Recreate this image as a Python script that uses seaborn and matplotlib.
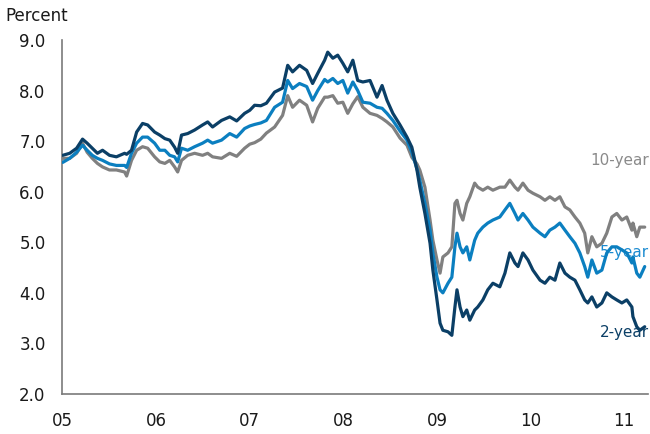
import matplotlib
matplotlib.use("Agg")
import matplotlib.pyplot as plt
import matplotlib.dates as mdates
from matplotlib.ticker import FormatStrFormatter
import pandas as pd
import seaborn as sns

# Government bond yields by maturity, percent
dates = [
    "2005-01-03", "2005-01-30", "2005-02-26", "2005-03-21", "2005-04-08", "2005-04-28",
    "2005-05-18", "2005-06-07", "2005-07-04", "2005-07-31", "2005-09-01", "2005-09-09",
    "2005-09-28", "2005-10-18", "2005-11-10", "2005-11-30", "2005-12-27", "2006-01-16",
    "2006-02-05", "2006-02-24", "2006-03-15", "2006-03-27", "2006-04-11", "2006-05-05",
    "2006-06-01", "2006-07-02", "2006-07-22", "2006-08-10", "2006-09-14", "2006-10-16",
    "2006-11-12", "2006-12-13", "2007-01-02", "2007-01-21", "2007-02-14", "2007-03-08",
    "2007-04-09", "2007-05-10", "2007-05-30", "2007-06-18", "2007-07-15", "2007-08-12",
    "2007-09-04", "2007-09-24", "2007-10-21", "2007-11-02", "2007-11-22", "2007-12-11",
    "2007-12-31", "2008-01-19", "2008-02-08", "2008-02-27", "2008-03-18", "2008-04-15",
    "2008-05-12", "2008-06-01", "2008-06-20", "2008-07-13", "2008-08-10", "2008-09-06",
    "2008-09-25", "2008-10-15", "2008-10-26", "2008-11-15", "2008-12-05", "2008-12-16",
    "2009-01-01", "2009-01-13", "2009-01-24", "2009-02-13", "2009-02-28", "2009-03-12",
    "2009-03-20", "2009-04-01", "2009-04-12", "2009-04-27", "2009-05-09", "2009-05-28",
    "2009-06-09", "2009-06-29", "2009-07-18", "2009-08-07", "2009-09-03", "2009-09-23",
    "2009-10-12", "2009-11-01", "2009-11-13", "2009-12-02", "2009-12-22", "2010-01-10",
    "2010-02-07", "2010-02-26", "2010-03-17", "2010-04-06", "2010-04-25", "2010-05-15",
    "2010-06-03", "2010-06-23", "2010-07-12", "2010-07-31", "2010-08-12", "2010-08-28",
    "2010-09-16", "2010-10-06", "2010-10-25", "2010-11-14", "2010-12-03", "2010-12-23",
    "2011-01-11", "2011-01-31", "2011-02-04", "2011-02-19", "2011-03-03", "2011-03-22",
]

yield_2y = [
    6.72, 6.76, 6.86, 7.04, 6.96, 6.86, 6.76, 6.82, 6.72, 6.69, 6.76, 6.74,
    6.82, 7.18, 7.35, 7.32, 7.18, 7.12, 7.05, 7.02, 6.88, 6.76, 7.12, 7.15,
    7.22, 7.32, 7.38, 7.28, 7.41, 7.48, 7.40, 7.55, 7.61, 7.71, 7.70, 7.75,
    7.97, 8.05, 8.50, 8.37, 8.50, 8.40, 8.14, 8.34, 8.60, 8.76, 8.64, 8.70,
    8.54, 8.37, 8.60, 8.20, 8.17, 8.20, 7.87, 8.10, 7.81, 7.55, 7.32, 7.08,
    6.88, 6.43, 6.09, 5.57, 4.98, 4.45, 3.86, 3.40, 3.26, 3.23, 3.16, 3.72,
    4.06, 3.72, 3.53, 3.66, 3.46, 3.66, 3.72, 3.86, 4.06, 4.19, 4.12, 4.39,
    4.79, 4.59, 4.52, 4.79, 4.65, 4.45, 4.25, 4.19, 4.31, 4.25, 4.59, 4.39,
    4.31, 4.25, 4.06, 3.86, 3.80, 3.92, 3.72, 3.80, 4.00, 3.92, 3.86, 3.80,
    3.86, 3.72, 3.53, 3.33, 3.26, 3.33,
]

yield_5y = [
    6.58, 6.66, 6.78, 6.92, 6.82, 6.72, 6.66, 6.62, 6.55, 6.52, 6.52, 6.48,
    6.76, 6.96, 7.08, 7.08, 6.96, 6.82, 6.82, 6.72, 6.69, 6.59, 6.86, 6.82,
    6.89, 6.96, 7.02, 6.96, 7.02, 7.15, 7.08, 7.25, 7.30, 7.33, 7.36, 7.41,
    7.67, 7.77, 8.20, 8.04, 8.14, 8.08, 7.81, 8.00, 8.22, 8.17, 8.24, 8.14,
    8.20, 7.95, 8.17, 8.00, 7.77, 7.75, 7.67, 7.65, 7.55, 7.41, 7.20, 7.02,
    6.78, 6.45, 6.23, 5.77, 5.24, 4.79, 4.31, 4.06, 4.00, 4.19, 4.31, 4.91,
    5.18, 4.91, 4.79, 4.91, 4.65, 5.04, 5.18, 5.30, 5.38, 5.44, 5.50, 5.64,
    5.77, 5.57, 5.44, 5.57, 5.44, 5.30, 5.18, 5.11, 5.24, 5.30, 5.38, 5.24,
    5.11, 4.98, 4.79, 4.52, 4.31, 4.65, 4.39, 4.45, 4.79, 4.91, 4.91, 4.85,
    4.79, 4.59, 4.71, 4.39, 4.31, 4.52,
]

yield_10y = [
    6.66, 6.66, 6.76, 6.96, 6.78, 6.66, 6.56, 6.49, 6.43, 6.43, 6.39, 6.31,
    6.62, 6.82, 6.89, 6.86, 6.69, 6.59, 6.56, 6.62, 6.49, 6.39, 6.62, 6.72,
    6.76, 6.72, 6.76, 6.69, 6.66, 6.76, 6.70, 6.86, 6.94, 6.97, 7.04, 7.16,
    7.28, 7.51, 7.90, 7.67, 7.81, 7.71, 7.38, 7.65, 7.87, 7.87, 7.90, 7.75,
    7.77, 7.55, 7.74, 7.88, 7.67, 7.55, 7.51, 7.45, 7.38, 7.28, 7.06, 6.92,
    6.68, 6.55, 6.43, 6.09, 5.44, 5.04, 4.65, 4.39, 4.71, 4.79, 4.91, 5.77,
    5.83, 5.57, 5.44, 5.77, 5.90, 6.17, 6.09, 6.03, 6.09, 6.03, 6.09, 6.09,
    6.23, 6.09, 6.03, 6.17, 6.03, 5.97, 5.90, 5.83, 5.90, 5.83, 5.90, 5.70,
    5.64, 5.50, 5.38, 5.18, 4.79, 5.11, 4.91, 4.98, 5.18, 5.50, 5.57, 5.44,
    5.50, 5.24, 5.38, 5.11, 5.30, 5.30,
]

series_names = ["2-year", "5-year", "10-year"]
series_colors = {"2-year": "#0b3f66", "5-year": "#0b7fc0", "10-year": "#808080"}
label_colors = {"2-year": "#0b3f66", "5-year": "#1a8ad0", "10-year": "#8a8a8a"}
year_labels = ["05", "06", "07", "08", "09", "10", "11"]
y_ticks = [2.0, 3.0, 4.0, 5.0, 6.0, 7.0, 8.0, 9.0]

frame = pd.DataFrame({
    "date": pd.to_datetime(dates * 3),
    "value": yield_2y + yield_5y + yield_10y,
    "series": [s for s in series_names for _ in dates],
})

sns.set_theme(style="white")
plt.rcParams["font.family"] = ["DejaVu Sans"]

fig = plt.figure(figsize=(6.5, 4.34), dpi=100)
ax = fig.add_axes([0.0958, 0.0922, 0.9012, 0.8156])

sns.lineplot(data=frame, x="date", y="value", hue="series",
             hue_order=["10-year", "5-year", "2-year"],
             palette=series_colors, linewidth=2.3, legend=False, ax=ax,
             zorder=3)

ax.set_xlim(pd.Timestamp("2005-01-01"), pd.Timestamp("2011-04-04"))
ax.set_ylim(2.0, 9.0)
ax.set_yticks(y_ticks)
ax.yaxis.set_major_formatter(FormatStrFormatter("%.1f"))
tick_dates = [pd.Timestamp(f"20{y}-01-01") for y in year_labels]
ax.set_xticks(tick_dates)
ax.set_xticklabels(year_labels)
ax.set_xlabel("")
ax.set_ylabel("")

for side in ("top", "right"):
    ax.spines[side].set_visible(False)
for side in ("left", "bottom"):
    ax.spines[side].set_color("#7a7a7a")
    ax.spines[side].set_linewidth(1.2)

ax.tick_params(axis="y", which="major", direction="out", length=5, width=1.1,
               color="#7a7a7a", pad=7, labelsize=12, labelcolor="#1a1a1a")
ax.tick_params(axis="x", which="major", direction="out", length=5, width=1.1,
               color="#7a7a7a", pad=8, labelsize=12, labelcolor="#1a1a1a")

fig.text(0.008, 1 - 16 / 434, "Percent", ha="left", va="center",
         fontsize=12, color="#1a1a1a")

# Series labels at the right edge, drawn beneath the lines
label_y = {"10-year": 160, "5-year": 253, "2-year": 333}
for name in series_names:
    ax.text(649 / 650, 1 - label_y[name] / 434, name, transform=fig.transFigure,
            ha="right", va="center", fontsize=11, color=label_colors[name],
            zorder=1, clip_on=False)

fig.savefig("out.png", dpi=100, facecolor="white")
